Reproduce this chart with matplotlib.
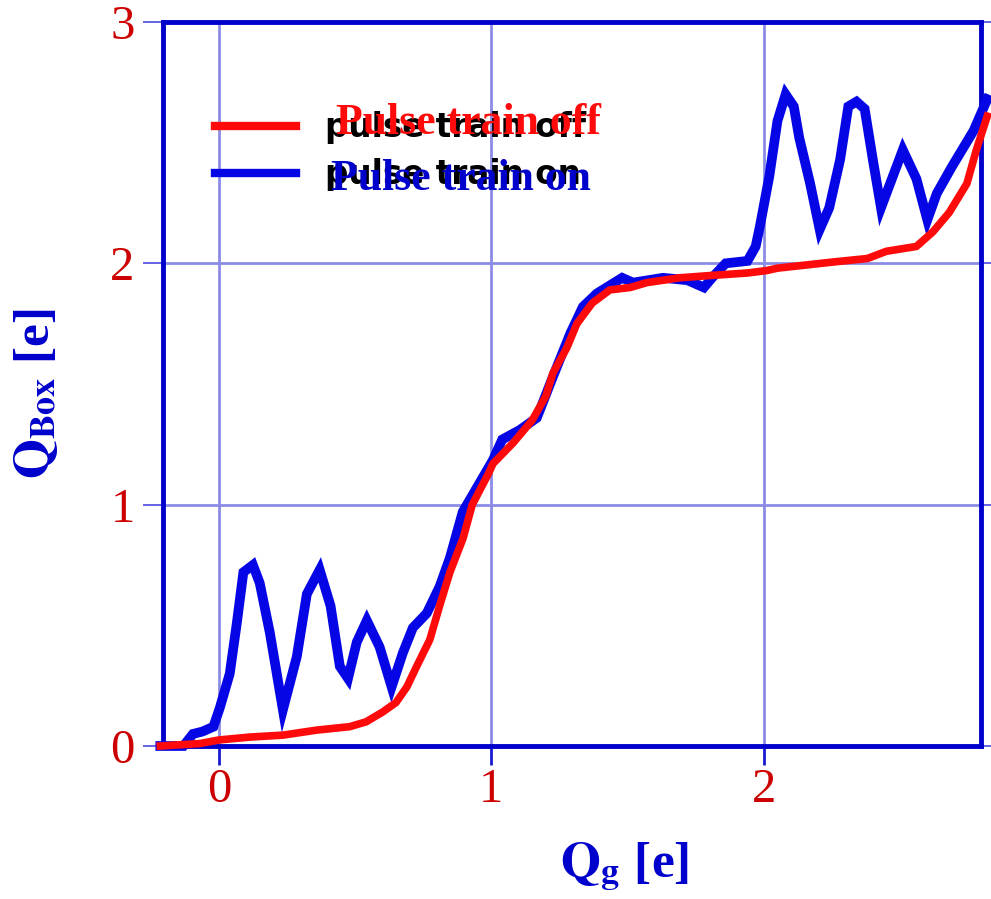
import numpy as np
import matplotlib
matplotlib.use("Agg")
import matplotlib.pyplot as plt
from matplotlib.lines import Line2D

plt.rcParams['font.family'] = ['Liberation Serif', 'DejaVu Serif']
plt.rcParams['mathtext.fontset'] = 'stix'

# gate charge sweep, box charge with the pulse train off / on
off_qg = [-0.215, -0.07, 0.0, 0.114, 0.235, 0.36, 0.48, 0.54, 0.60, 0.65, 0.69, 0.726,
          0.774, 0.81, 0.848, 0.896, 0.93, 0.99, 1.006, 1.08, 1.15, 1.20, 1.226, 1.277,
          1.314, 1.37, 1.435, 1.51, 1.57, 1.69, 1.81, 1.94, 2.01, 2.05, 2.25, 2.38, 2.45,
          2.56, 2.62, 2.68, 2.745, 2.78, 2.82]
off_qbox = [0.0, 0.01, 0.025, 0.037, 0.045, 0.066, 0.08, 0.10, 0.14, 0.18, 0.245, 0.33,
            0.44, 0.58, 0.72, 0.86, 1.0, 1.13, 1.17, 1.256, 1.35, 1.45, 1.545, 1.65,
            1.75, 1.835, 1.89, 1.90, 1.92, 1.94, 1.95, 1.96, 1.97, 1.98, 2.005, 2.02, 2.05,
            2.07, 2.13, 2.21, 2.33, 2.47, 2.61]

on_qg = [-0.215, -0.13, -0.095, -0.06, -0.02, 0.004, 0.04, 0.066, 0.09, 0.125, 0.15, 0.187,
         0.235, 0.286, 0.323, 0.37, 0.41, 0.444, 0.474, 0.506, 0.543, 0.59, 0.634, 0.675,
         0.712, 0.763, 0.81, 0.848, 0.895, 1.006, 1.04, 1.105, 1.167, 1.226, 1.29, 1.336,
         1.387, 1.48, 1.52, 1.63, 1.72, 1.78, 1.81, 1.86, 1.94, 1.97, 1.985, 2.02, 2.05,
         2.08, 2.11, 2.13, 2.17, 2.205, 2.24, 2.28, 2.31, 2.34, 2.37, 2.40, 2.43, 2.46,
         2.51, 2.56, 2.60, 2.635, 2.69, 2.77, 2.82]
on_qbox = [0.0, 0.0, 0.05, 0.06, 0.08, 0.16, 0.30, 0.51, 0.72, 0.75, 0.675, 0.47,
           0.15, 0.37, 0.63, 0.73, 0.58, 0.33, 0.28, 0.43, 0.52, 0.41, 0.245, 0.385,
           0.49, 0.55, 0.66, 0.78, 0.97, 1.185, 1.27, 1.31, 1.36, 1.53, 1.71, 1.82,
           1.875, 1.94, 1.92, 1.94, 1.93, 1.90, 1.94, 2.00, 2.01, 2.07, 2.15, 2.36, 2.59,
           2.70, 2.65, 2.52, 2.33, 2.14, 2.23, 2.43, 2.65, 2.67, 2.64, 2.43, 2.23, 2.32,
           2.47, 2.35, 2.18, 2.29, 2.40, 2.55, 2.68]

x_ticks = [0, 1, 2]
y_ticks = [0, 1, 2, 3]
labels = ["pulse train off", "pulse train on"]
tags = ["Pulse train off", "Pulse train on"]

RED = '#ff0a0a'
BLUE = '#0505e6'
FRAME = '#0000cc'
TICKRED = '#cc0000'

fig = plt.figure(figsize=(9.91, 8.99), dpi=100)
ax = fig.add_axes([163 / 991, 153 / 899, 818 / 991, 724 / 899])

ax.plot(on_qg, on_qbox, color=BLUE, lw=7, clip_on=False, zorder=3, solid_joinstyle='miter')
ax.plot(off_qg, off_qbox, color=RED, lw=5.5, clip_on=False, zorder=4)

ax.set_xlim(-0.205, 2.797)
ax.set_ylim(0, 3)
ax.set_xticks(x_ticks)
ax.set_yticks(y_ticks)
ax.grid(True, color='#8c8ce6', lw=2.0)
ax.set_axisbelow(True)

for sp in ax.spines.values():
    sp.set_color(FRAME)
    sp.set_linewidth(3.5)

ax.tick_params(axis='y', direction='out', length=14.5, width=1.2, color='#4a4ae0',
               left=True, right=True, labelsize=35, labelcolor=TICKRED, pad=6)
ax.tick_params(axis='x', direction='out', length=14, width=2, color='#1a1ad0',
               labelsize=35, labelcolor=TICKRED, pad=2)

# legend: black sans labels with the coloured serif tags over them
handles = [Line2D([], [], color=RED, lw=6), Line2D([], [], color=BLUE, lw=6)]
ax.legend(handles, labels, loc='upper left', bbox_to_anchor=(52 / 818, 1 - 89 / 724),
          frameon=False, handlelength=2.48, handletextpad=0.88, labelspacing=0.43,
          borderpad=0, borderaxespad=0,
          prop={'family': 'DejaVu Sans', 'weight': 'bold', 'size': 23.5})

ax.text(0.429, 2.535, tags[0], color=RED, fontsize=31.5, fontweight='bold', zorder=6)
ax.text(0.411, 2.304, tags[1], color='#0000cc', fontsize=31.5, fontweight='bold', zorder=6)

fig.text(625 / 991, 1 - 877 / 899, r'$\mathbf{Q_{g}}$ [e]', color=FRAME, fontsize=37,
         fontweight='bold', ha='center', va='baseline')
fig.text(36 / 991, 1 - 393 / 899, r'$\mathbf{Q_{Box}}$ [e]', color=FRAME, fontsize=37,
         fontweight='bold', ha='center', va='center', rotation=90)

fig.savefig('out.png', dpi=100)
